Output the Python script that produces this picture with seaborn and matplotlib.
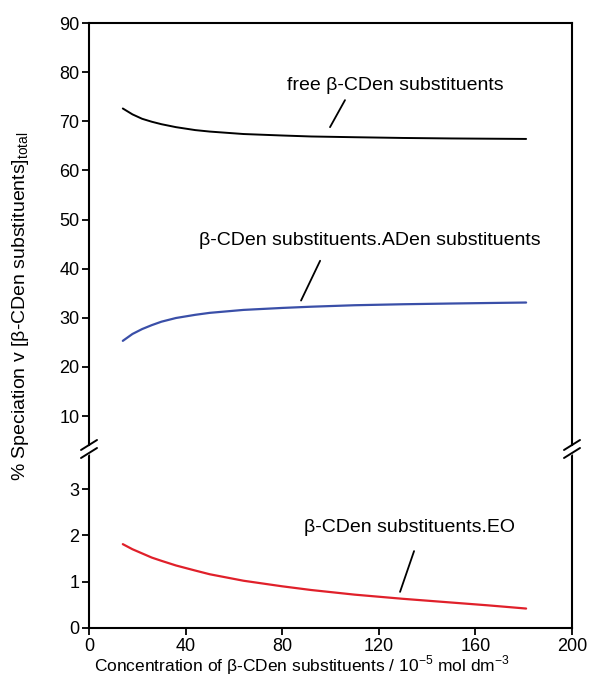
import numpy as np
import pandas as pd
import matplotlib
matplotlib.use("Agg")
import matplotlib.pyplot as plt
import seaborn as sns
from matplotlib.lines import Line2D

sns.set_theme(style="white")
plt.rcParams['font.family'] = ['Liberation Sans', 'DejaVu Sans']
plt.rcParams['text.color'] = 'black'

# Data
conc = [14, 18, 22, 26, 30, 36, 44, 50, 64, 80, 92, 110, 130, 150, 165, 181]
free_cd = [72.6, 71.4, 70.5, 69.9, 69.4, 68.8, 68.2, 67.9, 67.4, 67.1, 66.9,
           66.75, 66.6, 66.5, 66.45, 66.4]
cd_ad = [25.3, 26.7, 27.7, 28.5, 29.2, 29.95, 30.6, 31.0, 31.6, 32.0, 32.25,
         32.55, 32.75, 32.9, 33.0, 33.1]
cd_eo = [1.81, 1.70, 1.61, 1.52, 1.45, 1.35, 1.24, 1.16, 1.02, 0.90, 0.82,
         0.72, 0.63, 0.55, 0.49, 0.42]

x_ticks = [0, 40, 80, 120, 160, 200]
top_ticks = [10, 20, 30, 40, 50, 60, 70, 80, 90]
bottom_ticks = [0, 1, 2, 3]

df = pd.DataFrame({"conc": conc, "free": free_cd, "ad": cd_ad, "eo": cd_eo})

W, H = 590, 688
fig = plt.figure(figsize=(W / 100, H / 100), dpi=100)

def fx(px):
    return px / W

def fy(py):
    return (H - py) / H

L, R = 89, 572
ax_top = fig.add_axes([fx(L), fy(445), fx(R) - fx(L), fy(23) - fy(445)])
ax_bot = fig.add_axes([fx(L), fy(628), fx(R) - fx(L), fy(454) - fy(628)])

sns.lineplot(data=df, x="conc", y="free", ax=ax_top, color="black", lw=1.4)
sns.lineplot(data=df, x="conc", y="ad", ax=ax_top, color="#3a4fa8", lw=1.6)
sns.lineplot(data=df, x="conc", y="eo", ax=ax_bot, color="#e0202a", lw=1.6)

for ax in (ax_top, ax_bot):
    ax.set_xlim(0, 200)
    ax.set_xlabel("")
    ax.set_ylabel("")
    for s in ax.spines.values():
        s.set_color("black")
        s.set_linewidth(1.5)
    ax.tick_params(axis="both", direction="out", length=5, width=1.3,
                   colors="black", labelsize=13, pad=2)
    ax.tick_params(axis="y", left=True, right=False)

ax_top.set_ylim(4.1, 90)
ax_top.set_yticks(top_ticks)
ax_top.spines["bottom"].set_visible(False)
ax_top.tick_params(axis="x", bottom=False, top=False, labelbottom=False)

ax_bot.set_ylim(0, 3.756)
ax_bot.set_yticks(bottom_ticks)
ax_bot.set_xticks(x_ticks)
ax_bot.spines["top"].set_visible(False)
ax_bot.tick_params(axis="x", bottom=True)

# annotations
ax_top.text(126.7, 77.2, "free β-CDen substituents", ha="center", va="center",
            fontsize=14, color="black")
ax_top.plot([99.8, 106], [68.8, 74.3], color="black", lw=1.3)
ax_top.text(116.4, 45.8, "β-CDen substituents.ADen substituents", ha="center",
            va="center", fontsize=14, color="black")
ax_top.plot([87.8, 95.7], [33.5, 41.6], color="black", lw=1.3)
ax_bot.text(132.9, 2.18, "β-CDen substituents.EO", ha="center", va="center",
            fontsize=14, color="black")
ax_bot.plot([128.8, 134.6], [0.78, 1.66], color="black", lw=1.3)

# break marks
for xc in (L, R):
    fig.add_artist(plt.Polygon([[fx(xc - 3), fy(450)], [fx(xc + 3), fy(446)],
                                [fx(xc + 3), fy(452)], [fx(xc - 3), fy(456)]],
                               closed=True, color="white", zorder=5))
    for yc in (445, 453):
        fig.add_artist(Line2D([fx(xc - 8), fx(xc + 8)], [fy(yc + 5), fy(yc - 5)],
                              color="black", lw=1.4, zorder=6))

fig.text(fx(21), fy(306), "% Speciation v [β-CDen substituents]$_{\\mathregular{total}}$",
         rotation=90, ha="center", va="center", fontsize=14, color="black")
fig.text(fx(302), fy(665), "Concentration of β-CDen substituents / 10$^{\\mathregular{-5}}$ mol dm$^{\\mathregular{-3}}$",
         ha="center", va="center", fontsize=12.5, color="black")

fig.savefig("out.png", dpi=100, facecolor="white")
